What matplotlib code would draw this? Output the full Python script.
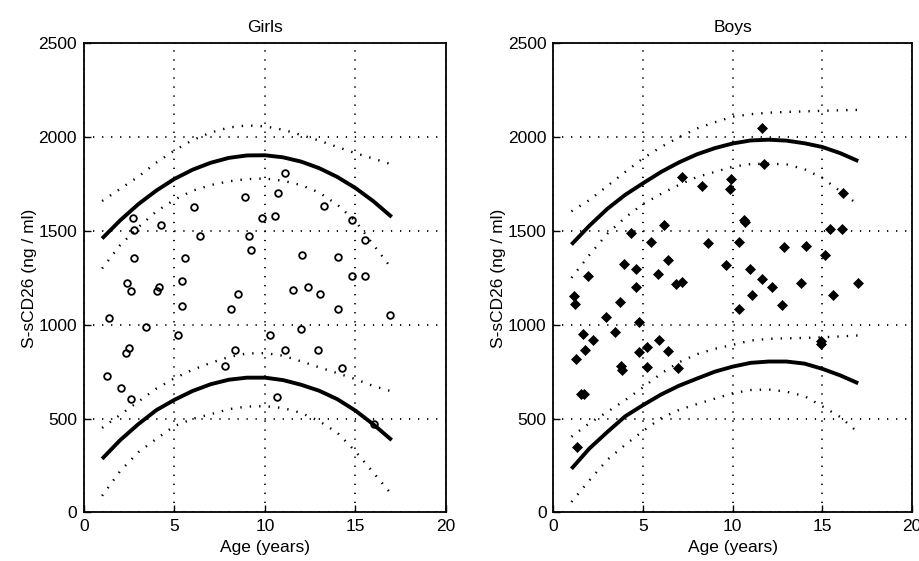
import matplotlib
matplotlib.use("Agg")
import matplotlib.pyplot as plt

plt.rcParams['font.family'] = ['Liberation Sans', 'DejaVu Sans']

# ---------------- data ----------------
curve_age = [1, 2, 3, 4, 5, 6, 7, 8, 9, 10, 11, 12, 13, 14, 15, 16, 17]

# Girls reference curves
girls_upper = [1460, 1557, 1643, 1716, 1778, 1827, 1864, 1890, 1903, 1904, 1893, 1870, 1835, 1788, 1729, 1658, 1575]
girls_upper_hi = [1660, 1725, 1790, 1865, 1930, 1985, 2025, 2052, 2063, 2058, 2040, 2012, 1982, 1948, 1915, 1886, 1855]
girls_upper_lo = [1300, 1425, 1520, 1605, 1667, 1715, 1745, 1765, 1777, 1780, 1768, 1745, 1705, 1640, 1552, 1425, 1300]
girls_lower = [285, 385, 470, 545, 600, 647, 683, 707, 718, 718, 705, 680, 648, 603, 542, 468, 385]
girls_lower_hi = [450, 520, 590, 660, 715, 760, 797, 828, 847, 849, 835, 805, 773, 742, 710, 673, 645]
girls_lower_lo = [88, 220, 320, 392, 460, 498, 523, 550, 564, 566, 556, 530, 486, 424, 325, 210, 95]

# Boys reference curves
boys_upper = [1428, 1528, 1618, 1693, 1755, 1815, 1866, 1909, 1942, 1967, 1983, 1987, 1982, 1968, 1948, 1915, 1873]
boys_upper_hi = [1605, 1665, 1740, 1815, 1888, 1948, 2000, 2047, 2080, 2110, 2123, 2131, 2135, 2138, 2141, 2144, 2146]
boys_upper_lo = [1250, 1372, 1485, 1572, 1644, 1698, 1746, 1788, 1815, 1843, 1857, 1859, 1855, 1830, 1783, 1712, 1640]
boys_lower = [232, 340, 428, 512, 572, 628, 675, 713, 750, 777, 797, 804, 804, 793, 765, 730, 688]
boys_lower_hi = [403, 475, 535, 598, 667, 740, 800, 843, 872, 893, 916, 925, 928, 930, 933, 938, 943]
boys_lower_lo = [55, 170, 280, 360, 434, 502, 546, 577, 606, 635, 652, 655, 643, 620, 565, 508, 425]

# Girls observations
girls_age = [2.72, 2.74, 4.28, 6.06, 8.89, 9.81, 6.43, 9.11, 9.22, 2.74, 5.58, 2.37,
             2.59, 4.13, 4.04, 5.43, 8.50, 5.43, 8.14, 1.36, 11.13, 10.72, 10.58, 13.27,
             14.81, 15.50, 12.02, 14.05, 14.81, 15.50, 11.56, 12.36, 13.05, 14.05, 16.89,
             3.44, 5.19, 10.30, 2.50, 2.31, 8.35, 7.81, 1.27, 2.05, 2.57, 11.99, 11.13,
             12.95, 14.25, 10.67, 16.02]
girls_val = [1570, 1504, 1533, 1629, 1683, 1570, 1476, 1476, 1401, 1357, 1357, 1223,
             1182, 1202, 1178, 1232, 1166, 1098, 1084, 1036, 1807, 1702, 1578, 1636,
             1558, 1453, 1371, 1364, 1262, 1262, 1185, 1200, 1166, 1084, 1053,
             988, 943, 948, 875, 849, 863, 781, 727, 661, 603, 979, 868,
             863, 770, 617, 471]

# Boys observations
boys_age = [1.14, 1.21, 1.28, 1.29, 1.52, 1.70, 1.66, 1.76, 1.94, 2.22, 2.92, 3.45,
            3.69, 3.76, 3.83, 3.93, 4.31, 4.62, 4.62, 4.78, 4.78, 5.24, 5.24, 5.46,
            5.84, 5.91, 6.17, 6.40, 6.40, 6.86, 6.92, 7.18, 7.18, 8.26, 8.64, 9.62,
            9.86, 9.93, 10.33, 10.33, 10.60, 10.70, 10.94, 11.08, 11.63, 11.63, 11.72,
            12.19, 12.77, 12.84, 13.78, 14.07, 14.90, 14.90, 15.13, 15.40, 15.59, 16.07,
            16.17, 17.00]
boys_val = [1151, 1112, 817, 350, 629, 629, 950, 866, 1262, 920, 1044, 964,
            1121, 782, 759, 1326, 1488, 1298, 1200, 1016, 854, 884, 774, 1444,
            1269, 920, 1533, 1348, 861, 1218, 767, 1230, 1790, 1740, 1437, 1319,
            1726, 1777, 1444, 1084, 1561, 1549, 1296, 1157, 2052, 1244, 1859,
            1200, 1103, 1415, 1223, 1422, 916, 898, 1373, 1510, 1157, 1513,
            1702, 1223]

titles = ["Girls", "Boys"]
x_ticks = [0, 5, 10, 15, 20]
y_ticks = [0, 500, 1000, 1500, 2000, 2500]
xlabel = "Age (years)"
ylabel = "S-sCD26 (ng / ml)"

# ---------------- figure ----------------
W, H = 920, 561
fig = plt.figure(figsize=(W / 100, H / 100), dpi=100)
ax_l = fig.add_axes([84 / W, (H - 512.3) / H, 362 / W, 468.8 / H])
ax_r = fig.add_axes([553.5 / W, (H - 512.3) / H, 358.5 / W, 468.8 / H])

grid_dot = (0, (0.7, 4.3))
curve_dot = (0, (0.6, 3.4))
fs = 12.5

panels = [
    (ax_l, titles[0], girls_upper, girls_upper_hi, girls_upper_lo,
     girls_lower, girls_lower_hi, girls_lower_lo, girls_age, girls_val, 'girls'),
    (ax_r, titles[1], boys_upper, boys_upper_hi, boys_upper_lo,
     boys_lower, boys_lower_hi, boys_lower_lo, boys_age, boys_val, 'boys'),
]

for (ax, title, up, up_hi, up_lo, lo, lo_hi, lo_lo, ages, vals, kind) in panels:
    ax.set_xlim(0, 20)
    ax.set_ylim(0, 2500)
    ax.set_xticks(x_ticks)
    ax.set_yticks(y_ticks)
    ax.grid(True, color='black', linestyle=grid_dot, linewidth=1.3)
    ax.set_axisbelow(True)
    ax.tick_params(direction='in', length=5, width=1, labelsize=fs, pad=5,
                   top=False, right=False, colors='black')
    for s in ax.spines.values():
        s.set_linewidth(1.3)
        s.set_color('black')

    for c in (up_hi, up_lo, lo_hi, lo_lo):
        ax.plot(curve_age, c, color='black', linestyle=curve_dot, linewidth=1.7)
    for c in (up, lo):
        ax.plot(curve_age, c, color='black', linewidth=2.8, solid_capstyle='butt')

    if kind == 'girls':
        ax.plot(ages, vals, linestyle='none', marker='o', markersize=4.8,
                markerfacecolor='none', markeredgecolor='black', markeredgewidth=1.3)
    else:
        ax.plot(ages, vals, linestyle='none', marker='D', markersize=4.8,
                markerfacecolor='black', markeredgecolor='black', markeredgewidth=0.5)

    ax.set_title(title, fontsize=fs, pad=8)
    ax.set_xlabel(xlabel, fontsize=fs, labelpad=4)
    ax.set_ylabel(ylabel, fontsize=fs, labelpad=1)

fig.savefig("out.png", dpi=100)
